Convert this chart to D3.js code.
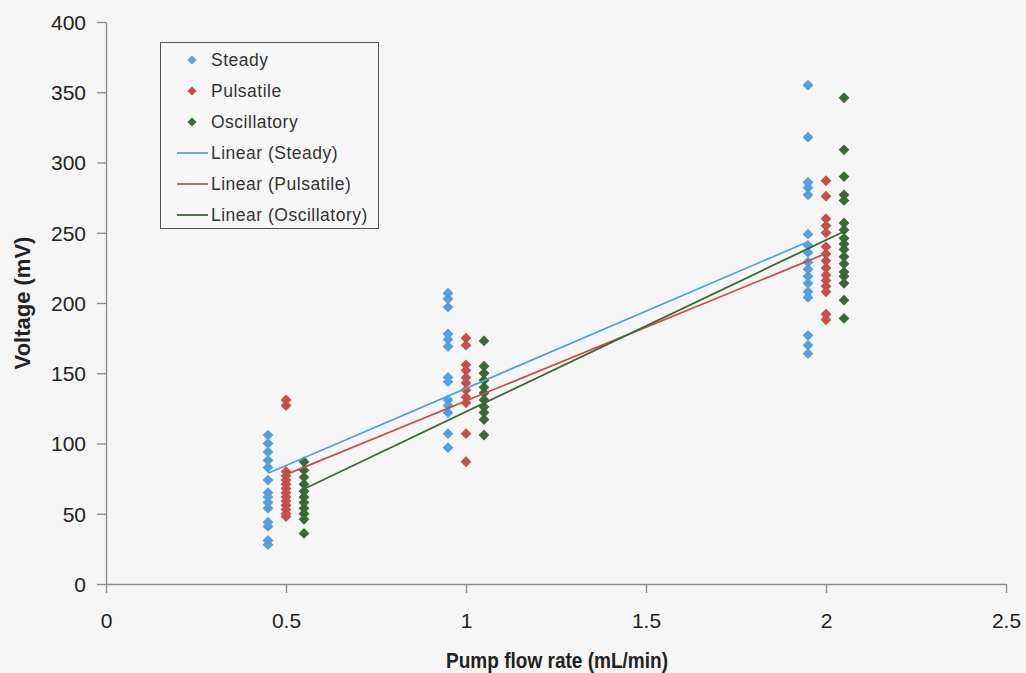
<!DOCTYPE html>
<html>
<head>
<meta charset="utf-8">
<script src="https://cdn.jsdelivr.net/npm/d3@7"></script>
<style>
  html, body { margin: 0; padding: 0; background: #f6f6f6; }
  svg { display: block; }
</style>
</head>
<body>
<svg id="chart" width="1026" height="673"></svg>
<script>
// Flow-rate groups and voltage readings (mV) for each flow condition
const seriesNames = ["Steady", "Pulsatile", "Oscillatory"];
const seriesColors = ["#569fdf", "#c74f4b", "#3a6935"];

const steadyX = [0.45, 0.95, 1.95];
const steadyY = [
  [106, 100, 94, 88, 83, 74, 65, 62, 58, 54, 44, 41, 31, 28],
  [207, 203, 197, 178, 174, 169, 147, 144, 131, 127, 122, 107, 97],
  [355, 318, 286, 282, 277, 249, 241, 236, 229, 224, 219, 214, 208, 204, 177, 170, 164]
];

const pulsatileX = [0.5, 1.0, 2.0];
const pulsatileY = [
  [131, 127, 80, 77, 74, 71, 68, 65, 62, 59, 56, 53, 50, 48],
  [175, 170, 156, 152, 147, 143, 138, 133, 129, 107, 87],
  [287, 276, 260, 255, 250, 240, 235, 230, 225, 220, 216, 212, 208, 192, 188]
];

const oscillatoryX = [0.55, 1.05, 2.05];
const oscillatoryY = [
  [87, 81, 76, 71, 66, 62, 58, 54, 50, 46, 36],
  [173, 155, 150, 145, 140, 136, 131, 126, 122, 117, 106],
  [346, 309, 290, 277, 273, 257, 252, 246, 242, 238, 233, 228, 222, 219, 214, 202, 189]
];

const xTicks = [0, 0.5, 1, 1.5, 2, 2.5];
const yTicks = [0, 50, 100, 150, 200, 250, 300, 350, 400];

// Flatten each series into {x, y} points
function toPoints(xs, ys) {
  const pts = [];
  xs.forEach((x, i) => ys[i].forEach(y => pts.push({ x, y })));
  return pts;
}
const series = [
  { name: seriesNames[0], color: seriesColors[0], points: toPoints(steadyX, steadyY) },
  { name: seriesNames[1], color: seriesColors[1], points: toPoints(pulsatileX, pulsatileY) },
  { name: seriesNames[2], color: seriesColors[2], points: toPoints(oscillatoryX, oscillatoryY) }
];

// Least-squares linear trendline over a series' own x range
function linearFit(pts) {
  const mx = d3.mean(pts, p => p.x), my = d3.mean(pts, p => p.y);
  const sxy = d3.sum(pts, p => (p.x - mx) * (p.y - my));
  const sxx = d3.sum(pts, p => (p.x - mx) ** 2);
  const slope = sxy / sxx, intercept = my - slope * mx;
  const [x0, x1] = d3.extent(pts, p => p.x);
  return [{ x: x0, y: intercept + slope * x0 }, { x: x1, y: intercept + slope * x1 }];
}

const svg = d3.select("#chart");
const plotLeft = 106, plotRight = 1006, plotTop = 22, plotBottom = 584;

const x = d3.scaleLinear().domain([0, 2.5]).range([plotLeft, plotRight]);
const y = d3.scaleLinear().domain([0, 400]).range([plotBottom, plotTop]);

const axisColor = "#8a8a8a";
const font = "'Liberation Sans', Arial, sans-serif";

// Axes
const xAxis = svg.append("g")
  .attr("transform", `translate(0,${plotBottom})`)
  .call(d3.axisBottom(x).tickValues(xTicks).tickFormat(d3.format("")).tickSize(9).tickSizeOuter(0));
const yAxis = svg.append("g")
  .attr("transform", `translate(${plotLeft},0)`)
  .call(d3.axisLeft(y).tickValues(yTicks).tickSize(9).tickSizeOuter(0));

[xAxis, yAxis].forEach(g => {
  g.select(".domain").attr("stroke", axisColor).attr("stroke-width", 1.3);
  g.selectAll(".tick line").attr("stroke", axisColor).attr("stroke-width", 1.3);
  g.selectAll(".tick text")
    .attr("fill", "#222")
    .style("font-family", font)
    .style("font-size", "21px");
});
xAxis.selectAll(".tick text").attr("dy", "0").attr("y", 44);
yAxis.selectAll(".tick text").attr("x", -20).attr("dy", "0.35em");

// Axis titles
svg.append("text")
  .attr("x", (plotLeft + plotRight) / 2 + 1).attr("y", 668)
  .attr("text-anchor", "middle")
  .attr("textLength", 222).attr("lengthAdjust", "spacingAndGlyphs")
  .style("font-family", font).style("font-size", "22px").style("font-weight", "bold")
  .attr("fill", "#222")
  .text("Pump flow rate (mL/min)");

svg.append("text")
  .attr("transform", `translate(30,${(plotTop + plotBottom) / 2}) rotate(-90)`)
  .attr("text-anchor", "middle")
  .style("font-family", font).style("font-size", "22px").style("font-weight", "bold")
  .attr("fill", "#222")
  .text("Voltage (mV)");

// Diamond marker
const r = 5.4;
const diamond = `M0,${-r}L${r},0L0,${r}L${-r},0Z`;

// Points
series.forEach(s => {
  svg.append("g").selectAll("path")
    .data(s.points)
    .join("path")
    .attr("d", diamond)
    .attr("transform", p => `translate(${x(p.x)},${y(p.y)})`)
    .attr("fill", s.color);
});

// Trendlines
const line = d3.line().x(p => x(p.x)).y(p => y(p.y));
series.forEach(s => {
  svg.append("path")
    .datum(linearFit(s.points))
    .attr("d", line)
    .attr("fill", "none")
    .attr("stroke", s.color)
    .attr("stroke-width", 1.8);
});

// Legend
const legend = svg.append("g");
legend.append("rect")
  .attr("x", 160.5).attr("y", 42.5).attr("width", 218).attr("height", 186)
  .attr("fill", "#f7f7f7").attr("stroke", "#555").attr("stroke-width", 1);

const rowY = d => 60 + d * 31;
const legendFont = "17.5px";
series.forEach((s, i) => {
  legend.append("path")
    .attr("d", `M0,-4.6L4.6,0L0,4.6L-4.6,0Z`)
    .attr("transform", `translate(192,${rowY(i)})`)
    .attr("fill", s.color);
  legend.append("text")
    .attr("x", 211).attr("y", rowY(i)).attr("dy", "0.35em")
    .style("font-family", font).style("font-size", legendFont).style("letter-spacing", "0.5px")
    .attr("fill", "#333")
    .text(s.name);
});
series.forEach((s, i) => {
  const yy = rowY(i + 3);
  legend.append("line")
    .attr("x1", 177).attr("x2", 208).attr("y1", yy).attr("y2", yy)
    .attr("stroke", s.color).attr("stroke-width", 1.8);
  legend.append("text")
    .attr("x", 211).attr("y", yy).attr("dy", "0.35em")
    .style("font-family", font).style("font-size", legendFont).style("letter-spacing", "0.5px")
    .attr("fill", "#333")
    .text(`Linear (${s.name})`);
});
</script>
</body>
</html>
